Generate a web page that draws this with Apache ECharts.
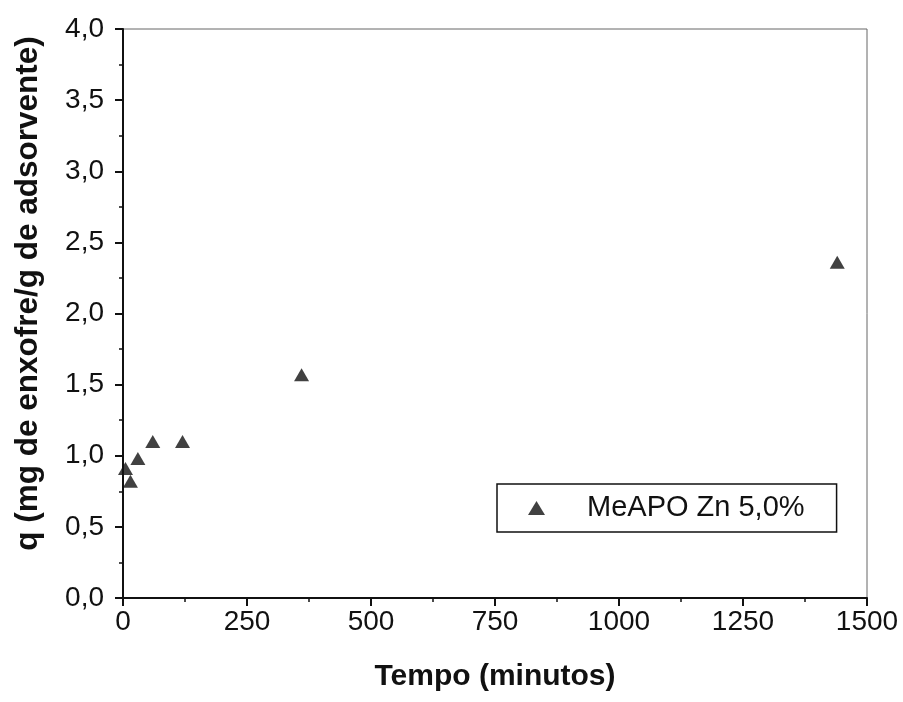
<!DOCTYPE html>
<html>
<head>
<meta charset="utf-8">
<script src="https://cdn.jsdelivr.net/npm/echarts@6/dist/echarts.min.js"></script>
<style>html,body{margin:0;padding:0;background:#fff}#c{width:903px;height:702px}</style>
</head>
<body>
<div id="c"></div>
<script>
var seriesName = 'MeAPO Zn 5,0%';
var tempo = [5, 15, 30, 60, 120, 360, 1440];
var qValues = [0.91, 0.82, 0.98, 1.10, 1.10, 1.57, 2.36];
var xTitle = 'Tempo (minutos)';
var yTitle = 'q (mg de enxofre/g de adsorvente)';

var points = tempo.map(function (t, i) { return [t, qValues[i]]; });
var font = '"Liberation Sans", Arial, sans-serif';

var chart = echarts.init(document.getElementById('c'), null, {renderer: 'canvas'});
chart.setOption({
  animation: false,
  backgroundColor: '#ffffff',
  grid: {left: 123, right: 36, top: 29, bottom: 104, show: true, borderColor: '#666', borderWidth: 1, backgroundColor: 'transparent'},
  legend: {
    show: true,
    left: 497, top: 484,
    orient: 'vertical',
    padding: [8, 32, 8, 31],
    borderColor: '#111', borderWidth: 1.5,
    itemWidth: 17, itemHeight: 14,
    textStyle: {fontFamily: font, fontSize: 29, color: '#111', lineHeight: 32, padding: [0, 0, 0, 37]},
    data: [{name: seriesName, icon: 'triangle'}]
  },
  xAxis: {
    type: 'value', min: 0, max: 1500, interval: 250,
    name: xTitle, nameLocation: 'middle', nameGap: 64,
    nameTextStyle: {fontFamily: font, fontSize: 30, fontWeight: 'bold', color: '#111'},
    axisLine: {show: true, onZero: false, lineStyle: {color: '#111', width: 2}},
    axisTick: {show: true, length: 8, lineStyle: {color: '#111', width: 2}},
    minorTick: {show: true, splitNumber: 2, length: 4, lineStyle: {color: '#111', width: 1.5}},
    splitLine: {show: false},
    axisLabel: {fontFamily: font, fontSize: 28, color: '#111', margin: 10,
      formatter: function (v) { return String(v); }}
  },
  yAxis: {
    type: 'value', min: 0, max: 4, interval: 0.5,
    name: yTitle, nameLocation: 'middle', nameGap: 79,
    nameTextStyle: {fontFamily: font, fontSize: 31.5, fontWeight: 'bold', color: '#111', padding: [0, 0, 0, 40]},
    axisLine: {show: true, onZero: false, lineStyle: {color: '#111', width: 2}},
    axisTick: {show: true, length: 8, lineStyle: {color: '#111', width: 2}},
    minorTick: {show: true, splitNumber: 2, length: 4, lineStyle: {color: '#111', width: 1.5}},
    splitLine: {show: false},
    axisLabel: {fontFamily: font, fontSize: 28, color: '#111', margin: 19,
      formatter: function (v) { return v.toFixed(1).replace('.', ','); }}
  },
  series: [{
    name: seriesName,
    type: 'scatter',
    symbol: 'triangle',
    symbolSize: [15, 13],
    itemStyle: {color: '#111'},
    data: points
  }]
});
</script>
</body>
</html>
